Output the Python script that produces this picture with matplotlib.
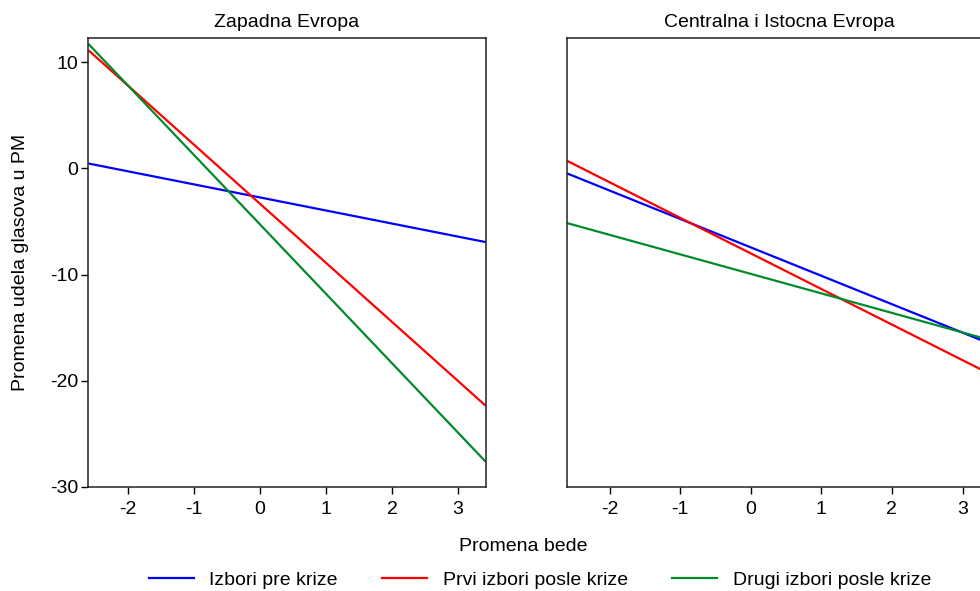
import matplotlib
matplotlib.use("Agg")
import matplotlib.pyplot as plt
from matplotlib.lines import Line2D

plt.rcParams['font.family'] = ['Liberation Sans', 'DejaVu Sans']

# x range of the fitted lines (Promena bede)
x_ends = [-2.6, 3.42]

panels = ["Zapadna Evropa", "Centralna i Istocna Evropa"]
series = ["Izbori pre krize", "Prvi izbori posle krize", "Drugi izbori posle krize"]
colors = ["#0000ff", "#ff0000", "#008b2b"]

# predicted values at the two ends, per panel
west_pre = [0.47, -6.94]
west_first = [11.15, -22.37]
west_second = [11.74, -27.65]

east_pre = [-0.47, -16.6]
east_first = [0.72, -19.48]
east_second = [-5.15, -16.23]

data = [[west_pre, west_first, west_second],
        [east_pre, east_first, east_second]]

xticks = [-2, -1, 0, 1, 2, 3]
yticks = [-30, -20, -10, 0, 10]

fig = plt.figure(figsize=(9.8, 5.91), dpi=100)
ax1 = fig.add_axes([0.0898, 0.1765, 0.4061, 0.7592])
ax2 = fig.add_axes([0.5783, 0.1765, 0.4344, 0.7592])

for i, ax in enumerate([ax1, ax2]):
    for vals, c in zip(data[i], colors):
        ax.plot(x_ends, vals, color=c, lw=1.6, solid_capstyle="butt")
    ax.set_xlim(-2.606, 3.424)
    ax.set_ylim(-30, 12.3)
    ax.set_xticks(xticks)
    ax.set_xticklabels([str(t) for t in xticks])
    ax.set_yticks(yticks)
    ax.set_title(panels[i], fontsize=14, pad=8)
    ax.tick_params(axis="x", direction="out", length=5, width=1, labelsize=14, pad=5)
    ax.tick_params(axis="y", direction="out", length=5, width=1, labelsize=14, pad=2)
    for s in ax.spines.values():
        s.set_linewidth(1.1)
        s.set_color("#222222")

ax1.set_yticklabels([str(t) for t in yticks])
ax2.set_yticklabels([])
ax2.tick_params(axis="y", length=0)

fig.text(0.021, 0.1765 + 0.7592 / 2, "Promena udela glasova u PM", rotation=90,
         ha="center", va="center", fontsize=14)
fig.text(0.534, 0.075, "Promena bede", ha="center", va="center", fontsize=14)

handles = [Line2D([0], [0], color=c, lw=1.6) for c in colors]
fig.legend(handles, series, loc="center", bbox_to_anchor=(0.551, 0.018),
           ncol=3, frameon=False, fontsize=14, handlelength=2.3,
           columnspacing=2.3, handletextpad=0.8)

fig.savefig("out.png", dpi=100)
